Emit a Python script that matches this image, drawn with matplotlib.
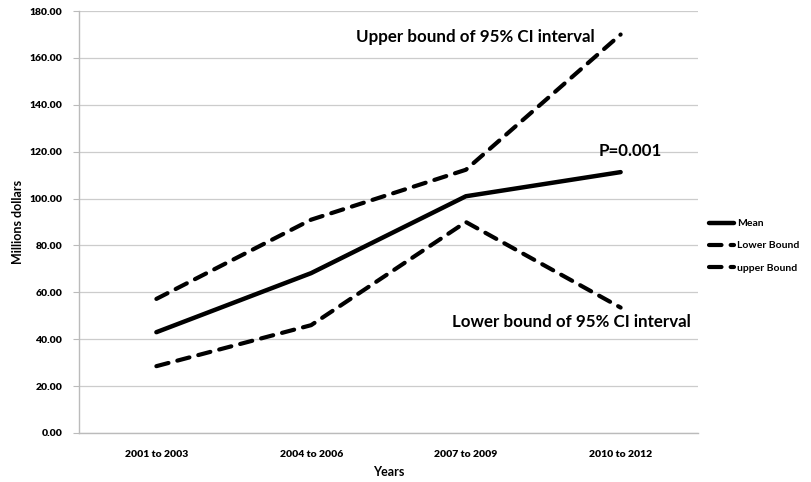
"""
    Mean spending with 95% CI bounds over four periods
"""

import numpy as np
import matplotlib.pyplot as plt

plt.rcParams['font.family'] = ['Lato', 'DejaVu Sans']

periods = ["2001 to 2003", "2004 to 2006", "2007 to 2009", "2010 to 2012"]
mean_vals = [43.0, 68.2, 101.0, 111.3]
lower_vals = [28.5, 46.0, 90.0, 53.5]
upper_vals = [57.2, 91.0, 112.3, 170.0]
yticks = [0, 20, 40, 60, 80, 100, 120, 140, 160, 180]


if __name__ == '__main__':

    fig = plt.figure(figsize=(8.12, 4.82), dpi=100)
    ax = fig.add_axes([0.0973, 0.1017, 0.7623, 0.8753])

    x = np.arange(len(periods))

    # Plot series
    ax.plot(x, mean_vals, color="black", lw=3.2, solid_capstyle="round",
            label="Mean", zorder=3)
    ax.plot(x, lower_vals, color="black", lw=3.0, dashes=(3, 2.2),
            dash_capstyle="round", label="Lower Bound", zorder=3)
    ax.plot(x, upper_vals, color="black", lw=3.0, dashes=(3, 2.2),
            dash_capstyle="round", label="upper Bound", zorder=3)

    # Axes styling
    ax.set_xlim(-0.5, len(periods) - 0.5)
    ax.set_ylim(0, 180)
    ax.set_yticks(yticks)
    ax.set_yticklabels(["%.2f" % v for v in yticks], fontsize=7.5,
                       fontweight="heavy")
    ax.set_xticks(x)
    ax.set_xticklabels(periods, fontsize=7.5, fontweight="heavy")
    ax.tick_params(axis="x", length=0, pad=12)
    ax.tick_params(axis="y", length=4, color="#bbbbbb", pad=8)
    ax.grid(axis="y", color="#cccccc", lw=0.9)
    ax.set_axisbelow(True)
    for side in ["top", "right"]:
        ax.spines[side].set_visible(False)
    for side in ["left", "bottom"]:
        ax.spines[side].set_color("#bbbbbb")
        ax.spines[side].set_linewidth(1.0)

    ax.set_xlabel("Years", fontsize=9, fontweight="bold", labelpad=5)
    ax.set_ylabel("Millions dollars", fontsize=9, fontweight="bold",
                  labelpad=4)

    # Annotations
    ax.text(2.06, 169, "Upper bound of 95% CI interval", fontsize=12.2,
            fontweight="bold", ha="center", va="center")
    ax.text(3.06, 120.3, "P=0.001", fontsize=12.2, fontweight="bold",
            ha="center", va="center")
    ax.text(2.68, 47.4, "Lower bound of 95% CI interval", fontsize=12.2,
            fontweight="bold", ha="center", va="center")

    fig.legend(loc="center left", bbox_to_anchor=(0.862, 0.49),
               frameon=False, handlelength=2.4,
               handletextpad=0.3, labelspacing=1.25,
               prop={"weight": "bold", "size": 7.5})

    plt.savefig("out.png", dpi=100)
